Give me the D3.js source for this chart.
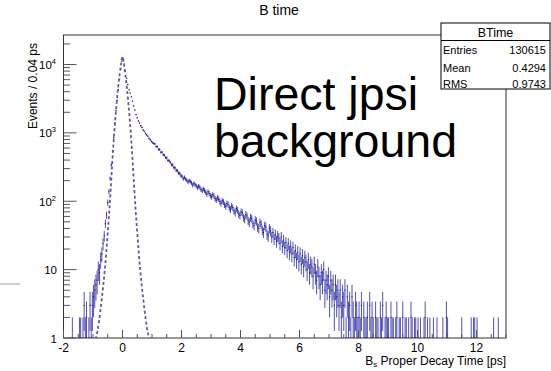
<!DOCTYPE html>
<html>
<head>
<meta charset="utf-8">
<script src="https://cdn.jsdelivr.net/npm/d3@7"></script>
<style>
  body { margin: 0; background: #fff; }
  svg { display: block; font-family: "Liberation Sans", Arial, sans-serif; }
</style>
</head>
<body>
<div id="chart"></div>
<script>
// Histogram binning (ps)
const binStart = -2;
const binWidth = 0.04;

// Bin contents, chunked by region
const countsNeg = [0,0,0,0,0,0,0,1,0,0,0,0,0,1,1,0,1,3,1,2,0,1,3,1,3];
const countsRise = [4,5,6,7,10,9,14,17,24,31,47,63,96,138,215,340,540,850,1400,2100,3000,4300,6100,8600,11200];
const countsPeak = [12400,10200,8050,6250,5120,4280,3830,3370,2920,2480,2160,1840,1660,1490,1390,1270,1200,1100,1050,980,935,895,830,795,748];
const countsOne = [720,698,690,631,628,575,570,521,522,478,472,436,431,395,392,371,342,340,310,308,283,281,258,255,236];
const countsTwoToFive = [
  232,214,224,211,203,192,199,195,186,172,
  183,176,168,158,166,161,149,142,151,144,
  136,127,138,130,121,116,126,119,109,104,
  113,108,99,93,102,98,89,84,93,90,
  80,76,85,81,72,68,78,74,65,62,
  70,68,58,55,64,61,52,49,58,56,
  47,44,53,51,42,40,49,46,38,35,
  44,42,33,31,40];
const countsFiveToEight = [
  37,30,35,28,33,26,31,29,24,30,
  22,27,21,25,19,24,18,22,17,21,
  15,19,14,18,13,17,12,16,11,15,
  13,10,14,9,12,11,8,12,9,7,
  11,8,6,9,7,10,5,7,6,8,
  4,7,5,6,3,6,4,5,3,5,
  2,4,3,5,1,4,2,3,1,4,
  2,1,3,2,1];
const countsTail = [
  2,1,3,0,2,1,1,2,0,3,1,2,1,0,2,1,1,0,2,1,3,0,1,2,1,
  1,0,2,1,1,0,1,2,0,1,1,0,2,0,1,1,0,1,0,2,1,0,1,1,0,
  1,0,1,0,0,1,2,0,1,0,1,0,0,1,0,0,1,0,0,0,0,1,0,0,2,
  1,0,0,0,0,0,0,0,0,0,0,0,1,0,0,0,0,0,0,0,1,0,1,1,0,
  1,0,0,0,0,0,0,0,0,0,0,0,0,0,1,0,0,0,1,0,0,0,0,0,0];

// Dashed prompt component
const promptT = [-0.95,-0.9,-0.85,-0.8,-0.75,-0.7,-0.65,-0.6,-0.55,-0.5,-0.45,-0.4,-0.35,-0.3,-0.25,-0.2,-0.15,-0.1,-0.05,0,
                 0.05,0.1,0.15,0.2,0.25,0.3,0.35,0.4,0.45,0.5,0.55,0.6,0.65,0.7,0.75,0.8,0.85,0.9,0.95];
const promptY = [0.8,1,1.25,1.7,2.5,3.8,6,10,18,35,70,150,350,750,1500,2700,4500,7000,10000,13000,
                 10000,7000,4500,2700,1500,750,350,150,70,35,18,10,6,3.8,2.5,1.7,1.25,1,0.8];

// Axis ticks and stats box
const xMajorTicks = [-2,0,2,4,6,8,10,12];
const yDecades = [1,10,100,1000,10000];
const statsRows = [["Entries","130615"],["Mean","0.4294"],["RMS","0.9743"]];

const counts = [].concat(countsNeg, countsRise, countsPeak, countsOne, countsTwoToFive, countsFiveToEight, countsTail);
const bins = counts.map((c, i) => ({ lo: binStart + i * binWidth, hi: binStart + (i + 1) * binWidth, n: c }));

const W = 551, H = 371;
const frame = { left: 63.5, right: 506, top: 35, bottom: 338 };

const svg = d3.select("#chart").append("svg")
    .attr("width", W).attr("height", H);

svg.append("rect").attr("width", W).attr("height", H).attr("fill", "#fff");

const x = d3.scaleLinear().domain([-2, 13]).range([frame.left, frame.right]);
const y = d3.scaleLog().domain([1, 27000]).range([frame.bottom, frame.top]);

svg.append("clipPath").attr("id", "plotClip")
  .append("rect")
    .attr("x", frame.left).attr("y", frame.top)
    .attr("width", frame.right - frame.left).attr("height", frame.bottom - frame.top);

// stray gray line on the left margin
svg.append("line")
    .attr("x1", 0).attr("x2", 20).attr("y1", 284).attr("y2", 284)
    .attr("stroke", "#cfcfcf").attr("stroke-width", 2);

const plot = svg.append("g").attr("clip-path", "url(#plotClip)");

// Data: error bars (sqrt N) plus bin-wide marker
const filled = bins.filter(d => d.n > 0);
plot.selectAll(".err")
  .data(filled)
  .join("line")
    .attr("class", "err")
    .attr("x1", d => x((d.lo + d.hi) / 2)).attr("x2", d => x((d.lo + d.hi) / 2))
    .attr("y1", d => y(Math.max(d.n - Math.sqrt(d.n), 0.5)))
    .attr("y2", d => y(d.n + Math.sqrt(d.n)))
    .attr("stroke", "#2626a8").attr("stroke-width", 1).attr("opacity", 0.8);

plot.selectAll(".mark")
  .data(filled)
  .join("line")
    .attr("class", "mark")
    .attr("x1", d => x(d.lo)).attr("x2", d => x(d.hi))
    .attr("y1", d => y(d.n)).attr("y2", d => y(d.n))
    .attr("stroke", "#101088").attr("stroke-width", 1);

// Dashed prompt curve
const promptLine = d3.line()
    .x(d => x(d[0]))
    .y(d => y(d[1]))
    .curve(d3.curveMonotoneX);

plot.append("path")
    .datum(promptT.map((t, i) => [t, promptY[i]]))
    .attr("d", promptLine)
    .attr("fill", "none")
    .attr("stroke", "#5a5aa8")
    .attr("stroke-width", 1.8)
    .attr("stroke-dasharray", "3,2.5");

// Frame
svg.append("rect")
    .attr("x", frame.left).attr("y", frame.top)
    .attr("width", frame.right - frame.left).attr("height", frame.bottom - frame.top)
    .attr("fill", "none").attr("stroke", "#333").attr("stroke-width", 1);

// X ticks (inside, upward)
const xMinor = d3.range(-2, 13.01, 0.5);
svg.selectAll(".xtick")
  .data(xMinor)
  .join("line")
    .attr("class", "xtick")
    .attr("x1", d => x(d)).attr("x2", d => x(d))
    .attr("y1", frame.bottom)
    .attr("y2", d => frame.bottom - (xMajorTicks.includes(d) ? 8 : 4))
    .attr("stroke", "#555").attr("stroke-width", 1);

svg.selectAll(".xlab")
  .data(xMajorTicks)
  .join("text")
    .attr("class", "xlab")
    .attr("x", d => x(d)).attr("y", 351.5)
    .attr("text-anchor", "middle")
    .attr("font-size", 12)
    .text(d => d);

// Y ticks (inside, rightward)
const yMinor = [];
yDecades.forEach(dec => d3.range(2, 10).forEach(k => { if (dec * k < 27000) yMinor.push(dec * k); }));

svg.selectAll(".ymin")
  .data(yMinor)
  .join("line")
    .attr("class", "ymin")
    .attr("x1", frame.left).attr("x2", frame.left + 6.5)
    .attr("y1", d => y(d)).attr("y2", d => y(d))
    .attr("stroke", "#555");

svg.selectAll(".ymaj")
  .data(yDecades)
  .join("line")
    .attr("class", "ymaj")
    .attr("x1", frame.left).attr("x2", frame.left + 13)
    .attr("y1", d => y(d)).attr("y2", d => y(d))
    .attr("stroke", "#555");

const ylab = svg.selectAll(".ylab")
  .data(yDecades)
  .join("text")
    .attr("class", "ylab")
    .attr("y", d => y(d) + 4.5)
    .attr("font-size", 11.5);

ylab.each(function(d) {
    const t = d3.select(this);
    const e = Math.round(Math.log10(d));
    if (e === 0) t.attr("x", 57).attr("text-anchor", "end").text("1");
    else if (e === 1) t.attr("x", 57).attr("text-anchor", "end").text("10");
    else {
        t.attr("x", 56).attr("text-anchor", "end");
        t.append("tspan").text("10");
        t.append("tspan").attr("font-size", 7.5).attr("dy", -5).text(e);
    }
});

// Axis titles
svg.append("text")
    .attr("transform", "translate(36.5,43) rotate(-90)")
    .attr("text-anchor", "end")
    .attr("font-size", 12)
    .text("Events / 0.04 ps");

const xt = svg.append("text")
    .attr("x", frame.right).attr("y", 364.5)
    .attr("text-anchor", "end")
    .attr("font-size", 12);
xt.append("tspan").text("B");
xt.append("tspan").attr("font-size", 8).attr("dy", 2).text("s");
xt.append("tspan").attr("dy", -2).text(" Proper Decay Time [ps]");

// Title
svg.append("text")
    .attr("x", 279).attr("y", 15)
    .attr("text-anchor", "middle")
    .attr("font-size", 14)
    .text("B time");

// Stats box
const sb = svg.append("g");
sb.append("rect")
    .attr("x", 441).attr("y", 23).attr("width", 109).attr("height", 66)
    .attr("fill", "#fff").attr("stroke", "#000").attr("stroke-width", 1);
sb.append("line")
    .attr("x1", 441).attr("x2", 550).attr("y1", 40.5).attr("y2", 40.5)
    .attr("stroke", "#000");
sb.append("text")
    .attr("x", 495.5).attr("y", 36.5)
    .attr("text-anchor", "middle").attr("font-size", 12.5)
    .text("BTime");
const rowY = [54, 71.5, 88];
statsRows.forEach((r, i) => {
    sb.append("text").attr("x", 443).attr("y", rowY[i]).attr("font-size", 11).text(r[0]);
    sb.append("text").attr("x", 546).attr("y", rowY[i]).attr("font-size", 11)
        .attr("text-anchor", "end").text(r[1]);
});

// Annotation
const note = svg.append("text")
    .attr("font-size", 46.5)
    .attr("fill", "#000");
note.append("tspan").attr("x", 214).attr("y", 110).text("Direct jpsi");
note.append("tspan").attr("x", 214).attr("y", 157).text("background");
</script>
</body>
</html>
